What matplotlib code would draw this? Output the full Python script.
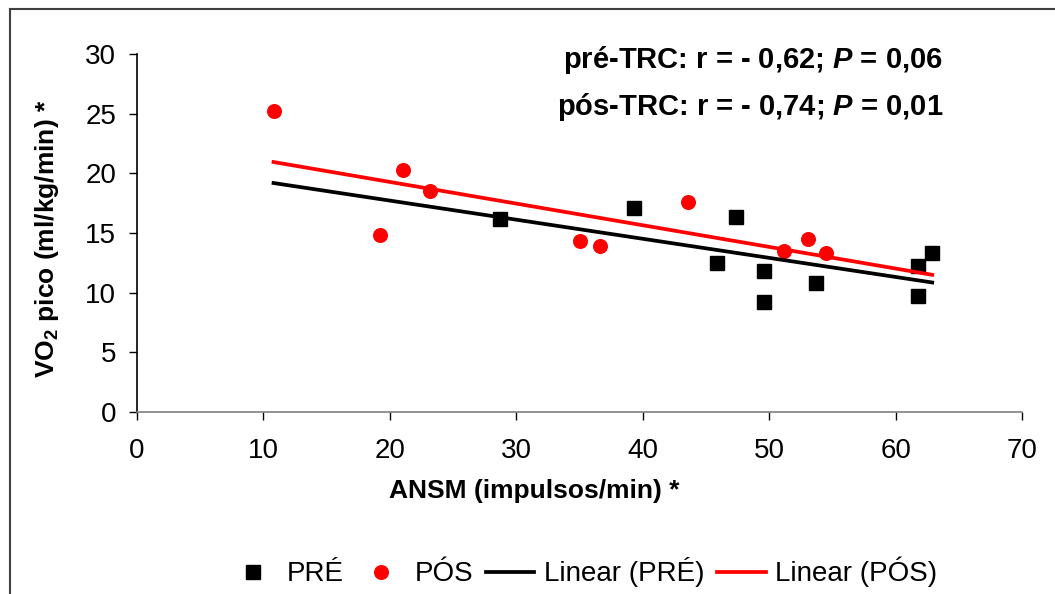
import numpy as np
import matplotlib
matplotlib.use("Agg")
import matplotlib.pyplot as plt
from matplotlib.lines import Line2D

plt.rcParams['font.family'] = ['Liberation Sans', 'DejaVu Sans']
plt.rcParams['mathtext.fontset'] = 'custom'
plt.rcParams['mathtext.rm'] = 'Liberation Sans'
plt.rcParams['mathtext.bf'] = 'Liberation Sans:bold'
plt.rcParams['mathtext.it'] = 'Liberation Sans:italic'
plt.rcParams['mathtext.bfit'] = 'Liberation Sans:bold:italic'

# dados
pre_x = [28.7, 39.3, 45.9, 47.4, 49.6, 49.6, 53.7, 61.8, 61.8, 62.9]
pre_y = [16.15, 17.1, 12.5, 16.3, 11.8, 9.2, 10.8, 12.2, 9.7, 13.3]
pos_x = [10.8, 19.2, 21.0, 23.2, 35.0, 36.6, 43.6, 51.2, 53.1, 54.5]
pos_y = [25.2, 14.8, 20.3, 18.5, 14.3, 13.9, 17.6, 13.5, 14.5, 13.3]

x_ticks = [0, 10, 20, 30, 40, 50, 60, 70]
y_ticks = [0, 5, 10, 15, 20, 25, 30]

stats_pre = "pré-TRC: r = - 0,62; $\\mathbfit{P}$ = 0,06"
stats_pos = "pós-TRC: r = - 0,74; $\\mathbfit{P}$ = 0,01"

fig = plt.figure(figsize=(10.55, 5.94), dpi=100)
ax = fig.add_axes([137/1055, 1 - 412/594, 885/1055, 358/594])

# pontos
ax.plot(pre_x, pre_y, 's', color='black', markersize=9.6, label='PRÉ', clip_on=False)
ax.plot(pos_x, pos_y, 'o', color='#ff0000', markersize=9.8, label='PÓS', clip_on=False)

# linhas de tendência (ajuste linear)
xs = np.array([min(pre_x + pos_x), max(pre_x + pos_x)])
a1, b1 = np.polyfit(pre_x, pre_y, 1)
a2, b2 = np.polyfit(pos_x, pos_y, 1)
ax.plot(xs, a1 * xs + b1, color='black', lw=2.7, label='Linear (PRÉ)')
ax.plot(xs, a2 * xs + b2, color='#ff0000', lw=2.7, label='Linear (PÓS)')

ax.set_xlim(0, 70)
ax.set_ylim(0, 30)
ax.set_xticks(x_ticks)
ax.set_yticks(y_ticks)
ax.tick_params(axis='both', direction='out', length=6, width=1, labelsize=20, color='black')
ax.tick_params(axis='x', pad=13)
ax.tick_params(axis='y', pad=9)

for s in ['top', 'right']:
    ax.spines[s].set_visible(False)
ax.spines['left'].set_color('black')
ax.spines['bottom'].set_color('#808080')
ax.spines['left'].set_linewidth(1.2)
ax.spines['bottom'].set_linewidth(1.2)

ax.set_xlabel('ANSM (impulsos/min) *', fontsize=19, fontweight='bold')
ax.xaxis.set_label_coords((534 - 137) / 885, (412 - 491) / 358)
ax.xaxis.label.set_va('center')
ax.set_ylabel('VO$_{\\mathbf{2}}$ pico (ml/kg/min) *', fontsize=19, fontweight='bold')
ax.yaxis.set_label_coords((47 - 137) / 885, (412 - 239) / 358)
ax.yaxis.label.set_va('center')

fig.text(943/1055, 1 - 68/594, stats_pre, ha='right', va='baseline', fontsize=21, fontweight='bold')
fig.text(943/1055, 1 - 115/594, stats_pos, ha='right', va='baseline', fontsize=21, fontweight='bold')

fig.legend(loc='center', bbox_to_anchor=(583/1055, 1 - 572/594), ncol=4, frameon=False,
           fontsize=20, handlelength=1.75, handletextpad=0.35, columnspacing=0.45)

# moldura
fig.add_artist(Line2D([10/1055, 1], [1 - 9/594, 1 - 9/594], color='#404040', lw=1.5))
fig.add_artist(Line2D([10/1055, 10/1055], [0, 1 - 9/594], color='#404040', lw=1.5))

fig.savefig('out.png', dpi=100)
